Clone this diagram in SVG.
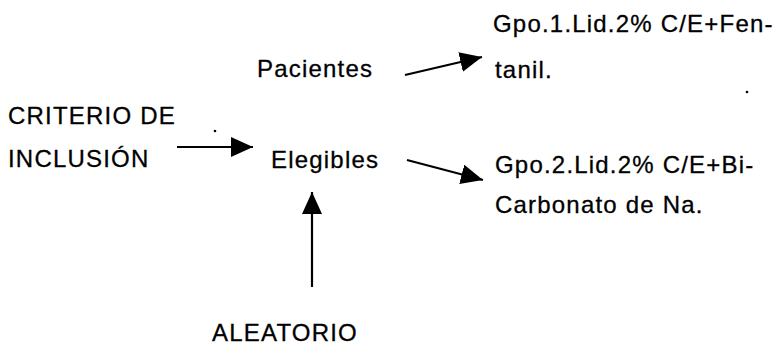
<svg xmlns="http://www.w3.org/2000/svg" width="778" height="356" viewBox="0 0 778 356">
<style>
.t{font-family:"Liberation Sans",Arial,sans-serif;font-size:24px;fill:#000;stroke:#000;stroke-width:0.3px;letter-spacing:1.2px}
.c{stroke:#000;stroke-width:2.2;fill:none}
</style>
<defs>
<marker id="ah" markerUnits="userSpaceOnUse" markerWidth="23" markerHeight="21" refX="22" refY="10" orient="auto">
<path d="M0,0 L22,10 L0,20 z" fill="#000"/>
</marker>
</defs>
<rect width="778" height="356" fill="#fff"/>
<g id="connectors">
<line class="c" x1="405" y1="75" x2="482" y2="57" marker-end="url(#ah)"/>
<line class="c" x1="177" y1="147" x2="253" y2="147" marker-end="url(#ah)"/>
<line class="c" x1="407" y1="160" x2="483" y2="180" marker-end="url(#ah)"/>
<line class="c" x1="312" y1="287" x2="312" y2="192" marker-end="url(#ah)"/>
</g>
<g id="criterio"><text class="t" x="8" y="124">CRITERIO DE</text><text class="t" x="8" y="167">INCLUSIÓN</text></g>
<g id="pacientes"><text class="t" x="257" y="77">Pacientes</text></g>
<g id="elegibles"><text class="t" x="271" y="168">Elegibles</text></g>
<g id="grupo1"><text class="t" x="493" y="32">Gpo.1.Lid.2% C/E+Fen-</text><text class="t" x="495" y="78">tanil.</text></g>
<g id="grupo2"><text class="t" x="495" y="173">Gpo.2.Lid.2% C/E+Bi-</text><text class="t" x="495" y="213">Carbonato de Na.</text></g>
<g id="aleatorio"><text class="t" x="212" y="341">ALEATORIO</text></g>
<circle cx="747" cy="92" r="1.3" fill="#000"/>
<circle cx="215" cy="131" r="1.3" fill="#000"/>
</svg>
